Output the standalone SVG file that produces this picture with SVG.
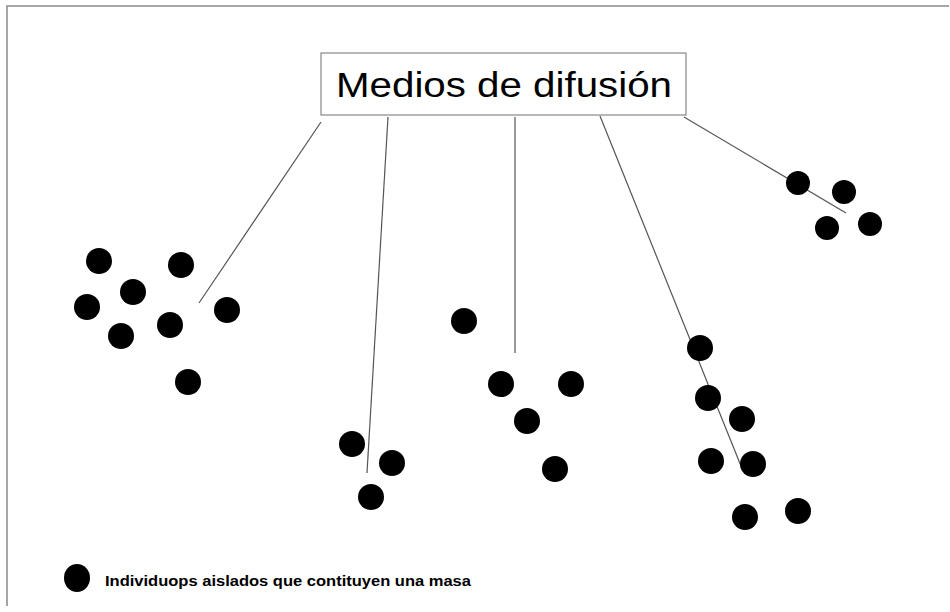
<svg xmlns="http://www.w3.org/2000/svg" width="950" height="612" viewBox="0 0 950 612">
<style>
.dot{fill:#000}
.conn{stroke:#555;stroke-width:1.2;fill:none}
.frame{stroke:#888;stroke-width:1.5;fill:none}
.title{font-family:"Century Gothic","URW Gothic","Liberation Sans",sans-serif;font-size:35px;fill:#000}
.legend{font-family:"Century Gothic","URW Gothic","Liberation Sans",sans-serif;font-size:15px;font-weight:bold;fill:#000}
</style>
<rect width="950" height="612" fill="#fff"/>
<path class="frame" d="M7,606 V6 H949"/>
<g id="connectors">
<line class="conn" x1="321" y1="122" x2="199" y2="303"/>
<line class="conn" x1="388" y1="117" x2="367" y2="473"/>
<line class="conn" x1="515" y1="117" x2="515" y2="353"/>
<line class="conn" x1="600" y1="116" x2="741" y2="466"/>
<line class="conn" x1="684" y1="117" x2="846" y2="213"/>
</g>
<g id="title-node">
<rect x="321" y="53" width="365" height="62" fill="#fff" stroke="#888" stroke-width="1.2"/>
<text class="title" x="336" y="97" textLength="336" lengthAdjust="spacingAndGlyphs">Medios de difusión</text>
</g>
<g id="cluster1">
<circle class="dot" cx="99" cy="261" r="13"/>
<circle class="dot" cx="181" cy="265" r="13"/>
<circle class="dot" cx="133" cy="292" r="13"/>
<circle class="dot" cx="87" cy="307" r="13"/>
<circle class="dot" cx="227" cy="310" r="13"/>
<circle class="dot" cx="170" cy="325" r="13"/>
<circle class="dot" cx="121" cy="336" r="13"/>
<circle class="dot" cx="188" cy="382" r="13"/>
</g>
<g id="cluster2">
<circle class="dot" cx="352" cy="444" r="13"/>
<circle class="dot" cx="392" cy="463" r="13"/>
<circle class="dot" cx="371" cy="497" r="13"/>
</g>
<g id="cluster3">
<circle class="dot" cx="464" cy="321" r="13"/>
<circle class="dot" cx="501" cy="384" r="13"/>
<circle class="dot" cx="571" cy="384" r="13"/>
<circle class="dot" cx="527" cy="421" r="13"/>
<circle class="dot" cx="555" cy="469" r="13"/>
</g>
<g id="cluster4">
<circle class="dot" cx="700" cy="348" r="13"/>
<circle class="dot" cx="708" cy="398" r="13"/>
<circle class="dot" cx="742" cy="419" r="13"/>
<circle class="dot" cx="711" cy="461" r="13"/>
<circle class="dot" cx="753" cy="464" r="13"/>
<circle class="dot" cx="745" cy="517" r="13"/>
<circle class="dot" cx="798" cy="511" r="13"/>
</g>
<g id="cluster5">
<circle class="dot" cx="798" cy="183" r="12"/>
<circle class="dot" cx="844" cy="192" r="12"/>
<circle class="dot" cx="827" cy="228" r="12"/>
<circle class="dot" cx="870" cy="224" r="12"/>
</g>
<g id="legend">
<ellipse class="dot" cx="77" cy="578" rx="13" ry="14"/>
<text class="legend" x="105" y="586" textLength="366" lengthAdjust="spacingAndGlyphs">Individuops aislados que contituyen una masa</text>
</g>
</svg>
